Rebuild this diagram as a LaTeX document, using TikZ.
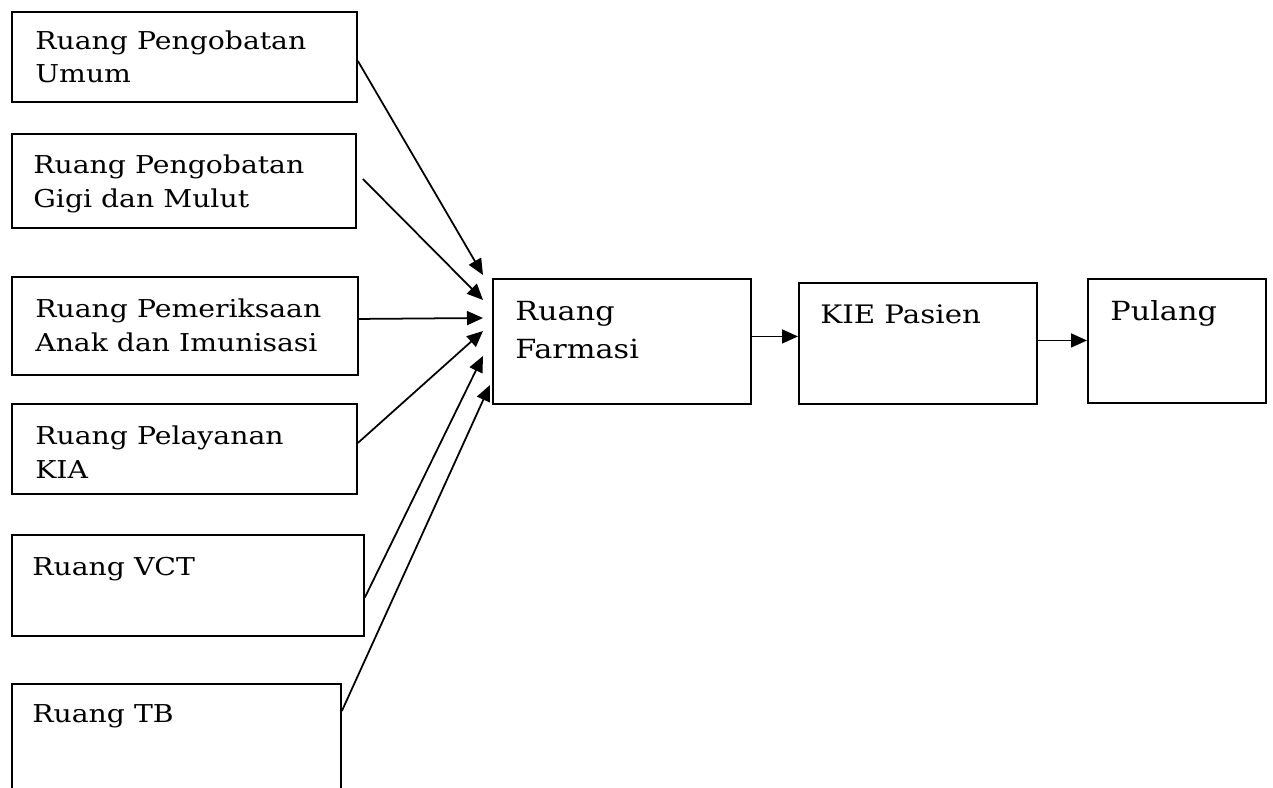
\documentclass[tikz,border=0pt]{standalone}
\usepackage{fontspec}
\setmainfont{DejaVu Serif}[FakeStretch = 1.15]
\usetikzlibrary{positioning,arrows.meta,calc}

\begin{document}
\begin{tikzpicture}[x = 0.02cm, y = -0.02cm,
	ruang/.style = {draw, line width = 1.1pt, inner sep = 0pt, anchor = north west},
	teks/.style = {anchor = base west, inner sep = 0pt, align = left, font = \fontsize{14}{18.8}\selectfont},
	teksbesar/.style = {teks, font = \fontsize{15}{21}\selectfont},
	panah/.style = {-{Triangle[length = 3.2mm, width = 2.8mm]}, line width = 1pt}]

\useasboundingbox (0, 0) rectangle (1273, 787);
\clip (0, 0) rectangle (1273, 787);

% kolom ruang pelayanan
\node[ruang, minimum width = 6.9cm, minimum height = 1.8cm] (Umum) at (11, 11) {};
\node[ruang, minimum width = 6.88cm, minimum height = 1.88cm] (Gigi) at (11, 133) {};
\node[ruang, minimum width = 6.92cm, minimum height = 1.96cm] (Anak) at (11, 276) {};
\node[ruang, minimum width = 6.9cm, minimum height = 1.8cm] (Kia) at (11, 403) {};
\node[ruang, minimum width = 7.04cm, minimum height = 2.02cm] (Vct) at (11, 534) {};
\node[ruang, minimum width = 6.58cm, minimum height = 3cm] (Tb) at (11, 683) {};

% anchor base = baris terakhir
\node[teks] (UmumT) at (35, 83) {Ruang Pengobatan\\Umum};
\node[teks] (GigiT) at (33, 207) {Ruang Pengobatan\\Gigi dan Mulut};
\node[teks] (AnakT) at (35, 351) {Ruang Pemeriksaan\\Anak dan Imunisasi};
\node[teks] (KiaT) at (35, 478) {Ruang Pelayanan\\KIA};
\node[teks] (VctT) at (32, 575) {Ruang VCT};
\node[teks] (TbT) at (32, 722) {Ruang TB};

% alur ke farmasi
\node[ruang, minimum width = 5.16cm, minimum height = 2.5cm] (Farmasi) at (492, 278) {};
\node[ruang, minimum width = 4.76cm, minimum height = 2.42cm] (Kie) at (798, 282) {};
\node[ruang, minimum width = 3.56cm, minimum height = 2.48cm] (Pulang) at (1087, 278) {};

\node[teksbesar, font = \fontsize{15}{21.2}\selectfont] (FarmasiT) at (515, 358) {Ruang\\Farmasi};
\node[teks, font = \fontsize{14.5}{20}\selectfont] (KieT) at (820, 323) {KIE Pasien};
\node[teksbesar] (PulangT) at (1110, 320) {Pulang};

\coordinate (m1) at (483, 275);
\coordinate (m2) at (483, 300);
\coordinate (m3) at (483, 318);
\coordinate (m4) at (483, 331);
\coordinate (m5) at (483, 356);
\coordinate (m6) at (490, 385);

\draw[panah] ($(Umum.east) + (0, 4)$) -- (m1);
\draw[panah] ($(Gigi.east) + (6, -2)$) -- (m2);
\draw[panah] ($(Anak.east) + (0, -7)$) -- (m3);
\draw[panah] ($(Kia.east) + (0, -6)$) -- (m4);
\draw[panah] ($(Vct.east) + (0, 12)$) -- (m5);
\draw[panah] ($(Tb.north east) + (0, 28)$) -- (m6);

\draw[panah] ($(Farmasi.east) + (0, -5)$) coordinate (fk) -- (fk -| Kie.west);
\draw[panah] ($(Kie.east) + (0, -3)$) coordinate (kp) -- (kp -| Pulang.west);

\end{tikzpicture}
\end{document}
